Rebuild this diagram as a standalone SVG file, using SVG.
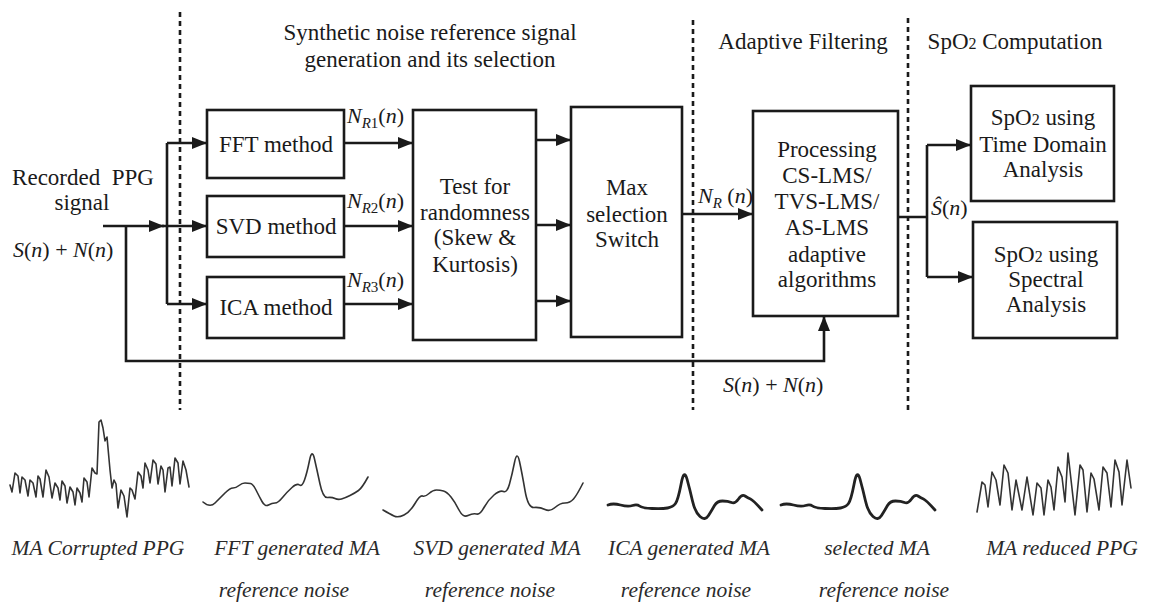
<svg xmlns="http://www.w3.org/2000/svg" width="1152" height="603" viewBox="0 0 1152 603">
<defs>
<marker id="ah" viewBox="0 0 15 12" refX="15" refY="6" markerWidth="15" markerHeight="12" markerUnits="userSpaceOnUse" orient="auto">
<path d="M0,0 L15,6 L0,12 z" fill="#1a1a1a"/>
</marker>
<style>
text{font-family:'Liberation Serif','Times New Roman',serif}
.box{fill:#fff;stroke:#1a1a1a;stroke-width:2.6}
.t{font-size:23px;fill:#1a1a1a;text-anchor:middle}
.m{font-size:22px;fill:#1a1a1a}
.i{font-style:italic}
.sub{font-size:15px}
.cap{font-size:21.5px;font-style:italic;fill:#2a2a2a;text-anchor:middle}
.c{fill:none;stroke:#1a1a1a;stroke-width:2.6}
.dot{fill:none;stroke:#1a1a1a;stroke-width:2.6;stroke-dasharray:5 4}
.w1{fill:none;stroke:#333;stroke-width:1.6;stroke-linejoin:round;stroke-linecap:round}
.w2{fill:none;stroke:#222;stroke-width:2.8;stroke-linejoin:round;stroke-linecap:round}
</style>
<path id="icaWave" d="M608,505 Q613,503 620.5,505 Q628,507 632.5,505.5 Q637,504 639.5,506 Q642,508 652,508.5 Q662,509 667.5,508 Q673,507 675.5,503.5 Q678,500 681,484.5 Q684,468 687,479 Q690,490 692.5,501 Q695,512 700,516.5 Q705,521 708.5,515.5 Q712,510 714.5,505.5 Q717,501 722.5,501 Q728,501 731.5,502.5 Q735,504 738.5,499 Q742,494 745,496 Q748,498 750.5,499 Q753,500 762,510"/>
</defs>
<rect width="1152" height="603" fill="#fff"/>

<g id="separators">
<line class="dot" x1="180" y1="12" x2="180" y2="410"/>
<line class="dot" x1="693" y1="20" x2="693" y2="410"/>
<line class="dot" x1="908" y1="18" x2="908" y2="410"/>
</g>

<g id="section-titles">
<text class="t" x="430" y="40">Synthetic noise reference signal</text>
<text class="t" x="430" y="67">generation and its selection</text>
<text class="t" x="803" y="49">Adaptive Filtering</text>
<text class="t" x="1015" y="49">SpO<tspan font-size="16">2</tspan> Computation</text>
</g>

<g id="input">
<text class="t" x="83" y="185">Recorded&#160; PPG</text>
<text class="t" x="82" y="210">signal</text>
<text class="m" x="13" y="257"><tspan class="i">S</tspan>(<tspan class="i">n</tspan>) + <tspan class="i">N</tspan>(<tspan class="i">n</tspan>)</text>
</g>

<g id="connectors">
<path class="c" d="M103,226 H164" marker-end="url(#ah)"/>
<path class="c" d="M162,226 H167 M167,143 V304"/>
<path class="c" d="M167,143 H207" marker-end="url(#ah)"/>
<path class="c" d="M167,226 H207" marker-end="url(#ah)"/>
<path class="c" d="M167,304 H207" marker-end="url(#ah)"/>
<path class="c" d="M126,226 V361 H824 V316" marker-end="url(#ah)"/>
<path class="c" d="M344,143 H413" marker-end="url(#ah)"/>
<path class="c" d="M344,226 H413" marker-end="url(#ah)"/>
<path class="c" d="M344,304 H413" marker-end="url(#ah)"/>
<path class="c" d="M536,140 H571" marker-end="url(#ah)"/>
<path class="c" d="M536,225 H571" marker-end="url(#ah)"/>
<path class="c" d="M536,301 H571" marker-end="url(#ah)"/>
<path class="c" d="M682,214 H753" marker-end="url(#ah)"/>
<path class="c" d="M898,217 H927 M927,145 V277"/>
<path class="c" d="M927,145 H971" marker-end="url(#ah)"/>
<path class="c" d="M927,277 H973" marker-end="url(#ah)"/>
<text class="m" x="347" y="123"><tspan class="i">N</tspan><tspan class="sub" dy="5"><tspan class="i">R</tspan>1</tspan><tspan dy="-5">(</tspan><tspan class="i">n</tspan>)</text>
<text class="m" x="347" y="208"><tspan class="i">N</tspan><tspan class="sub" dy="5"><tspan class="i">R</tspan>2</tspan><tspan dy="-5">(</tspan><tspan class="i">n</tspan>)</text>
<text class="m" x="347" y="287"><tspan class="i">N</tspan><tspan class="sub" dy="5"><tspan class="i">R</tspan>3</tspan><tspan dy="-5">(</tspan><tspan class="i">n</tspan>)</text>
<text class="m" x="698" y="203"><tspan class="i">N</tspan><tspan class="sub i" dy="5">R</tspan><tspan dy="-5"> (</tspan><tspan class="i">n</tspan>)</text>
<text class="m" x="931" y="215"><tspan class="i">Ŝ</tspan>(<tspan class="i">n</tspan>)</text>
<text class="m" x="723" y="392"><tspan class="i">S</tspan>(<tspan class="i">n</tspan>) + <tspan class="i">N</tspan>(<tspan class="i">n</tspan>)</text>
</g>

<g id="fft-method">
<rect class="box" x="207" y="110" width="137" height="68"/>
<text class="t" x="276" y="152">FFT method</text>
</g>
<g id="svd-method">
<rect class="box" x="207" y="196" width="137" height="61"/>
<text class="t" x="276" y="234">SVD method</text>
</g>
<g id="ica-method">
<rect class="box" x="207" y="277" width="137" height="61"/>
<text class="t" x="276" y="315">ICA method</text>
</g>
<g id="randomness-test">
<rect class="box" x="413" y="110" width="123" height="230"/>
<text class="t" x="475" y="194">Test for</text>
<text class="t" x="475" y="220">randomness</text>
<text class="t" x="475" y="245">(Skew &amp;</text>
<text class="t" x="475" y="272">Kurtosis)</text>
</g>
<g id="max-selection">
<rect class="box" x="571" y="107" width="111" height="230"/>
<text class="t" x="627" y="195">Max</text>
<text class="t" x="627" y="222">selection</text>
<text class="t" x="627" y="247">Switch</text>
</g>
<g id="adaptive-processing">
<rect class="box" x="753" y="111" width="145" height="205"/>
<text class="t" x="827" y="157">Processing</text>
<text class="t" x="827" y="183">CS-LMS/</text>
<text class="t" x="827" y="209">TVS-LMS/</text>
<text class="t" x="827" y="235">AS-LMS</text>
<text class="t" x="827" y="262">adaptive</text>
<text class="t" x="827" y="287">algorithms</text>
</g>
<g id="spo2-time">
<rect class="box" x="971" y="86" width="143" height="115"/>
<text class="t" x="1043" y="125">SpO<tspan font-size="16">2</tspan> using</text>
<text class="t" x="1043" y="152">Time Domain</text>
<text class="t" x="1043" y="177">Analysis</text>
</g>
<g id="spo2-spectral">
<rect class="box" x="973" y="222" width="144" height="116"/>
<text class="t" x="1046" y="262">SpO<tspan font-size="16">2</tspan> using</text>
<text class="t" x="1046" y="287">Spectral</text>
<text class="t" x="1046" y="312">Analysis</text>
</g>

<g id="waveforms">
<path class="w1" d="M10,485 L12,492 L15,473 L18,476 L20,493 L22,477 L25,480 L28,496 L30,480 L33,483 L36,497 L38,476 L40,479 L43,497 L46,470 L49,477 L52,498 L55,483 L58,488 L60,500 L62,481 L65,486 L67,503 L70,487 L73,492 L75,505 L77,488 L80,493 L82,502 L84,478 L87,482 L89,497 L92,468 L95,473 L97,474 L99,422 L101,420 L103,428 L105,441 L107,437 L110,470 L112,488 L114,480 L116,484 L118,508 L121,490 L124,496 L127,517 L130,488 L132,490 L135,499 L138,472 L141,476 L143,488 L145,463 L148,470 L150,483 L153,460 L156,464 L158,484 L161,466 L163,470 L165,492 L168,468 L170,467 L172,486 L175,458 L178,463 L180,484 L183,461 L186,470 L189,487"/>
<path class="w1" d="M203,502 Q210,508 215,503 Q220,498 225,493 Q230,488 233,488 Q236,488 239,485.5 Q242,483 245,483 Q248,483 250.5,483.5 Q253,484 256,490 Q259,496 262,501.5 Q265,507 268.5,505 Q272,503 275,503 Q278,503 282.5,497.5 Q287,492 292,487.5 Q297,483 299.5,485 Q302,487 304.5,480 Q307,473 309.5,460.5 Q312,448 314.5,459 Q317,470 320,484 Q323,498 327.5,497.5 Q332,497 335,498.5 Q338,500 341.5,499 Q345,498 350,495.5 Q355,493 358.5,490.5 Q362,488 368,477"/>
<path class="w1" d="M383,510 Q390,514 394,516 Q398,518 404,515 Q410,512 415,503.5 Q420,495 422.5,496 Q425,497 429,493.5 Q433,490 436.5,490 Q440,490 443.5,491 Q447,492 451,497 Q455,502 459,510 Q463,518 468,515.5 Q473,513 476.5,514 Q480,515 484,507.5 Q488,500 494,495 Q500,490 503.5,491.5 Q507,493 509.5,484 Q512,475 514.5,462.5 Q517,450 519.5,461.5 Q522,473 525,490.5 Q528,508 534,507.5 Q540,507 545,509.5 Q550,512 555,507.5 Q560,503 565,503 Q570,503 573.5,499 Q577,495 583,483"/>
<use href="#icaWave" class="w2"/>
<use href="#icaWave" class="w2" transform="translate(173,0)"/>
<path class="w1" d="M977,512 L982,482 L985,485 L988,507 L992,472 L996,480 L1000,505 L1004,465 L1008,473 L1012,510 L1016,480 L1022,510 L1027,477 L1033,515 L1037,483 L1041,488 L1044,515 L1048,480 L1051,487 L1054,510 L1058,467 L1062,477 L1065,502 L1068,453 L1075,515 L1080,465 L1083,470 L1087,512 L1091,473 L1094,479 L1099,510 L1103,467 L1107,473 L1111,507 L1115,460 L1119,472 L1122,505 L1127,460 L1131,488"/>
</g>

<g id="waveform-labels">
<text class="cap" x="98" y="555">MA Corrupted PPG</text>
<text class="cap" x="297" y="555">FFT generated MA</text>
<text class="cap" x="284" y="597">reference noise</text>
<text class="cap" x="497" y="555">SVD generated MA</text>
<text class="cap" x="490" y="597">reference noise</text>
<text class="cap" x="689" y="555">ICA generated MA</text>
<text class="cap" x="686" y="597">reference noise</text>
<text class="cap" x="877" y="555">selected MA</text>
<text class="cap" x="884" y="597">reference noise</text>
<text class="cap" x="1062" y="555">MA reduced PPG</text>
</g>
</svg>
